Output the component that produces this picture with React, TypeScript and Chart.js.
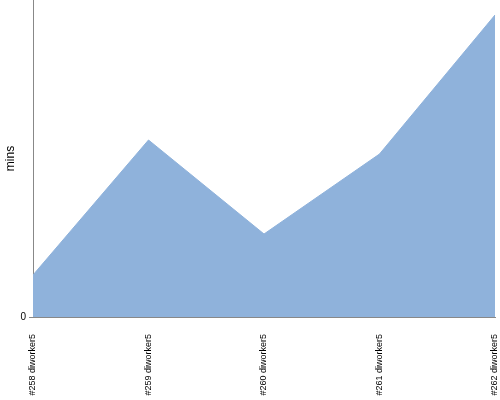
import React, { useEffect, useRef } from "react";
import { Chart, registerables } from "chart.js";

Chart.register(...registerables);

const categories = ["#258 diworker5", "#259 diworker5", "#260 diworker5", "#261 diworker5", "#262 diworker5"];
const minutes = [4.2, 17.7, 8.3, 16.3, 30.2];
const yMax = 31.7;
const yTickValues = [0];

export default function App() {
  const ref = useRef<HTMLCanvasElement | null>(null);
  useEffect(() => {
    if (!ref.current) return;
    const chart = new Chart(ref.current, {
      type: "line",
      data: {
        labels: categories,
        datasets: [
          {
            data: minutes,
            fill: "origin",
            backgroundColor: "#8fb2db",
            borderColor: "#8fb2db",
            borderWidth: 1,
            pointRadius: 0,
            tension: 0,
          },
        ],
      },
      options: {
        animation: false,
        responsive: true,
        maintainAspectRatio: false,
        layout: { autoPadding: false, padding: { top: 0, left: 0, right: 5, bottom: 0 } },
        plugins: { legend: { display: false }, tooltip: { enabled: false } },
        scales: {
          x: {
            offset: false,
            grid: { display: false },
            border: { display: true, color: "#888888" },
            ticks: {
              minRotation: 90,
              maxRotation: 90,
              autoSkip: false,
              color: "#000000",
              font: { family: "Liberation Sans", size: 9 },
              padding: 9,
            },
            afterFit: (s: any) => {
              s.height = 83;
              s.paddingLeft = 0;
              s.paddingRight = 0;
            },
          },
          y: {
            min: 0,
            max: yMax,
            grid: { drawOnChartArea: false, tickLength: 4, color: "#888888" },
            border: { display: true, color: "#888888" },
            ticks: {
              color: "#000000",
              font: { family: "Liberation Sans", size: 10 },
              padding: 3,
            },
            afterBuildTicks: (s: any) => {
              s.ticks = yTickValues.map((v) => ({ value: v }));
            },
            title: {
              display: true,
              text: "mins",
              color: "#000000",
              font: { family: "Liberation Sans", size: 12 },
              padding: { top: 3, bottom: 0 },
            },
            afterFit: (s: any) => {
              s.width = 33;
              s.paddingTop = 0;
              s.paddingBottom = 0;
            },
          },
        },
      },
    });
    return () => chart.destroy();
  }, []);
  return (
    <div style={{ position: "absolute", left: 0, top: 0, width: 500, height: 400, background: "#fff" }}>
      <canvas ref={ref} />
    </div>
  );
}
